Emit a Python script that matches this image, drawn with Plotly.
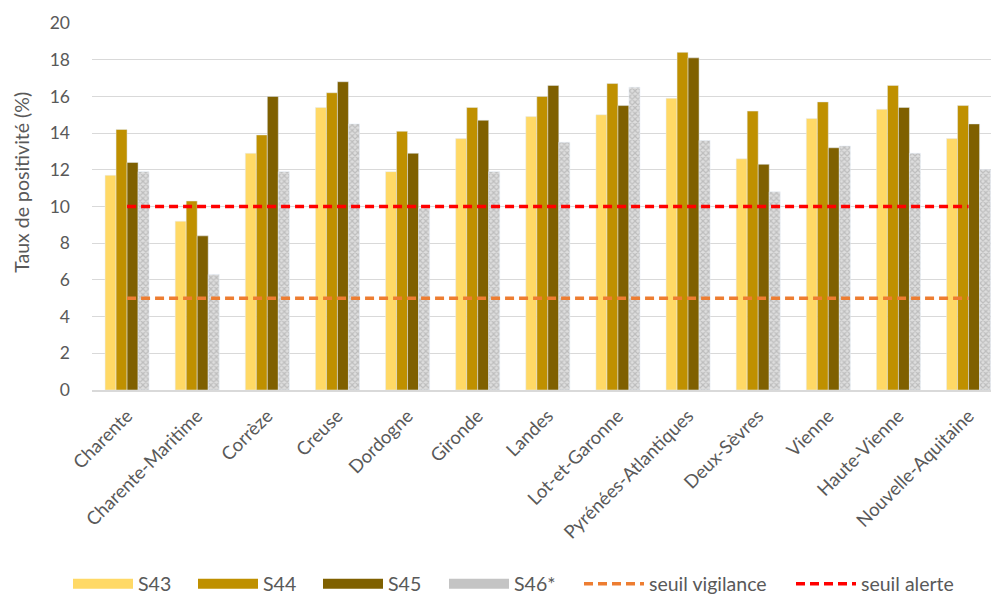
import plotly.graph_objects as go

departements = ["Charente", "Charente-Maritime", "Corrèze", "Creuse", "Dordogne",
                "Gironde", "Landes", "Lot-et-Garonne", "Pyrénées-Atlantiques",
                "Deux-Sèvres", "Vienne", "Haute-Vienne", "Nouvelle-Aquitaine"]

s43 = [11.7, 9.2, 12.9, 15.4, 11.9, 13.7, 14.9, 15.0, 15.9, 12.6, 14.8, 15.3, 13.7]
s44 = [14.2, 10.3, 13.9, 16.2, 14.1, 15.4, 16.0, 16.7, 18.4, 15.2, 15.7, 16.6, 15.5]
s45 = [12.4, 8.4, 16.0, 16.8, 12.9, 14.7, 16.6, 15.5, 18.1, 12.3, 13.2, 15.4, 14.5]
s46 = [11.9, 6.3, 11.9, 14.5, 9.9, 11.9, 13.5, 16.5, 13.6, 10.8, 13.3, 12.9, 12.0]

seuil_vigilance = [5] * len(departements)
seuil_alerte = [10] * len(departements)

FONT = "Lato"
GREY_TXT = "#595959"
DASH = "9px,5px"

bar_series = [
    ("S43", s43, "#FFD966", None),
    ("S44", s44, "#BF9000", None),
    ("S45", s45, "#7F6000", None),
    ("S46*", s46, "#c4c4c4",
     dict(shape="x", fgcolor="#9c9c9c", bgcolor="#dedede", size=4, solidity=0.5)),
]

# one legend box per entry, left edge in pixels
legend_left_px = [68, 193, 318, 444, 579, 791]

fig = go.Figure()
legend_ids = ["legend"] + [f"legend{i}" for i in range(2, 7)]
for i, (name, vals, color, pattern) in enumerate(bar_series):
    marker = dict(color=color)
    if pattern:
        marker["pattern"] = pattern
    fig.add_trace(go.Bar(name=name, x=departements, y=vals, marker=marker,
                         legendgroup=name, showlegend=False))
    # wide rectangular legend swatch
    fig.add_trace(go.Scatter(name=name, x=[None], y=[None], mode="lines",
                             line=dict(color=color, width=12),
                             legendgroup=name, legend=legend_ids[i]))

fig.add_trace(go.Scatter(name="seuil vigilance", x=departements, y=seuil_vigilance,
                         mode="lines", legend=legend_ids[4],
                         line=dict(color="#ED7D31", width=3.5, dash=DASH)))
fig.add_trace(go.Scatter(name="seuil alerte", x=departements, y=seuil_alerte,
                         mode="lines", legend=legend_ids[5],
                         line=dict(color="#FF0000", width=3.5, dash=DASH)))

legend_common = dict(orientation="h", xref="container", yref="container",
                     y=0.0168, yanchor="middle", xanchor="left",
                     font=dict(family=FONT, size=19.5, color=GREY_TXT),
                     itemwidth=60, bgcolor="rgba(0,0,0,0)")
legends = {lid: dict(legend_common, x=px / 991)
           for lid, px in zip(legend_ids, legend_left_px)}

fig.update_layout(
    width=991, height=594,
    margin=dict(l=92, r=0, t=23, b=204),
    paper_bgcolor="white", plot_bgcolor="white",
    font=dict(family=FONT, color=GREY_TXT, size=16),
    barmode="group", bargap=0.372, bargroupgap=0,
    showlegend=True,
    xaxis=dict(range=[-0.5, 12.32], tickangle=-45, tickfont=dict(size=18.5),
               showline=True, linecolor="#d9d9d9", linewidth=1.5,
               ticks="", showgrid=False, automargin=False, ticklabelstandoff=6),
    yaxis=dict(range=[0, 20], dtick=2, showgrid=True, gridcolor="#d9d9d9",
               gridwidth=1.3, zeroline=False, tickfont=dict(size=17.5),
               ticks="", ticklabelstandoff=21, automargin=False),
    annotations=[dict(text="Taux de positivité (%)", textangle=-90,
                      xref="paper", yref="paper", x=-0.078, y=0.567,
                      xanchor="center", yanchor="middle", showarrow=False,
                      font=dict(size=19.5, color=GREY_TXT))],
    **legends,
)

fig.write_html("out.html")
